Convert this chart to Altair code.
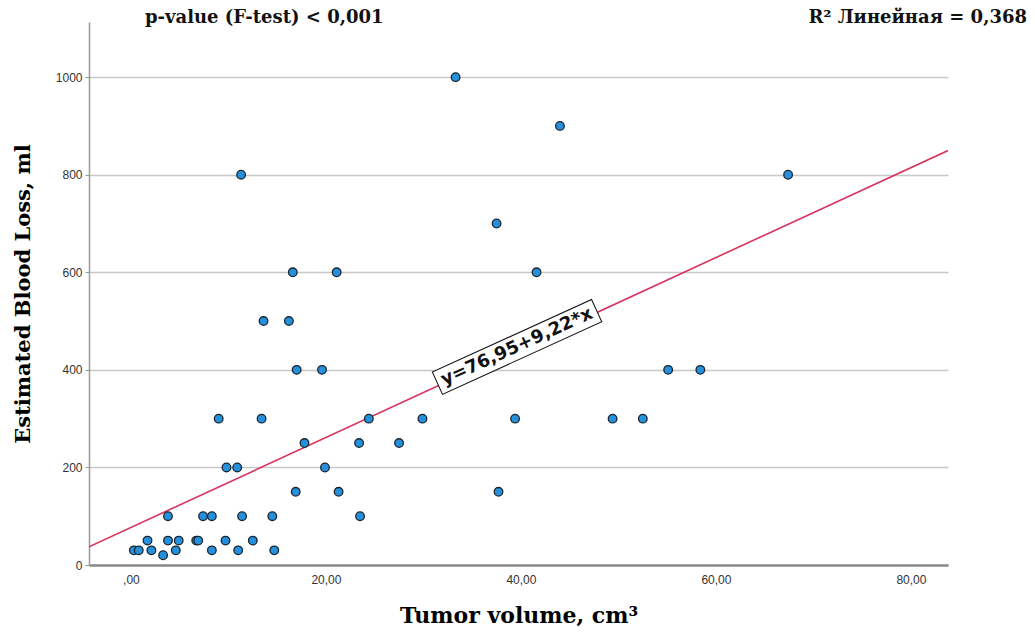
import altair as alt
import pandas as pd

# ---- data ----
tumor_volume = [0.3, 0.8, 2.1, 4.6, 8.3, 11.0, 14.7, 3.3,
                1.7, 3.8, 4.9, 6.7, 6.9, 9.7, 12.5,
                3.8, 7.4, 8.3, 11.4, 14.5, 23.5,
                16.9, 21.3, 37.7,
                9.8, 10.9, 19.9,
                17.8, 23.4, 27.5,
                9.0, 13.4, 24.4, 29.9, 39.4, 49.4, 52.5,
                17.0, 19.6, 55.1, 58.4,
                13.6, 16.2,
                16.6, 21.1, 41.6,
                37.5,
                11.3, 67.4,
                44.0,
                33.3]
blood_loss = [30, 30, 30, 30, 30, 30, 30, 20,
              50, 50, 50, 50, 50, 50, 50,
              100, 100, 100, 100, 100, 100,
              150, 150, 150,
              200, 200, 200,
              250, 250, 250,
              300, 300, 300, 300, 300, 300, 300,
              400, 400, 400, 400,
              500, 500,
              600, 600, 600,
              700,
              800, 800,
              900,
              1000]

intercept = 76.95
slope = 9.22
x_domain = [-4.3, 83.8]
y_domain = [0, 1113]
x_ticks = [0, 20, 40, 60, 80]
y_ticks = [0, 200, 400, 600, 800, 1000]
eq_label = ["y=76,95+9,22*x"]
eq_pos_x = [39.6]
eq_pos_y = [447]

pts = pd.DataFrame({"x": tumor_volume, "y": blood_loss})
fit = pd.DataFrame({"x": x_domain, "y": [intercept + slope * v for v in x_domain]})
eq = pd.DataFrame({"x": eq_pos_x, "y": eq_pos_y, "t": eq_label})

W, H = 859, 543
SERIF = "DejaVu Serif"

xs = alt.Scale(domain=x_domain, nice=False, zero=False)
ys = alt.Scale(domain=y_domain, nice=False, zero=False)

x_axis = alt.Axis(values=x_ticks, grid=False, ticks=False,
                  labelExpr="datum.value == 0 ? ',00' : replace(format(datum.value, '.2f'), '.', ',')",
                  labelFont="Liberation Sans", labelFontSize=12, labelColor="#333333",
                  labelPadding=9, domainColor="#8a8a8a", domainWidth=2.5,
                  title="Tumor volume, cm³", titleFont=SERIF, titleFontSize=22,
                  titleFontWeight="bold", titleColor="#000000", titlePadding=20)
y_axis = alt.Axis(values=y_ticks, grid=True, gridColor="#c8c8c8", gridWidth=1.5,
                  format="d",
                  tickColor="#9a9a9a", tickSize=4, domainColor="#9a9a9a", domainWidth=1.5,
                  labelFont="Liberation Sans", labelFontSize=12, labelColor="#333333",
                  labelPadding=3,
                  title="Estimated Blood Loss, ml", titleFont=SERIF, titleFontSize=21,
                  titleFontWeight="bold", titleColor="#000000", titlePadding=22)

points = alt.Chart(pts).mark_point(
    filled=True, shape="circle", size=74, fill="#2590dc", stroke="#1a2530",
    strokeWidth=1.3, opacity=1
).encode(
    x=alt.X("x:Q", scale=xs, axis=x_axis),
    y=alt.Y("y:Q", scale=ys, axis=y_axis),
)

line = alt.Chart(fit).mark_line(color="#d6335c", strokeWidth=1.6, clip=True).encode(
    x=alt.X("x:Q", scale=xs), y=alt.Y("y:Q", scale=ys)
)

box = alt.Chart(eq).mark_point(
    shape="M-1,-0.14L1,-0.14L1,0.14L-1,0.14Z", size=30625, filled=True,
    fill="white", stroke="#111111", strokeWidth=1, angle=335.5, opacity=1
).encode(x=alt.X("x:Q", scale=xs), y=alt.Y("y:Q", scale=ys))

eq_text = alt.Chart(eq).mark_text(
    font="DejaVu Sans", fontWeight="bold", fontSize=18, angle=335.5,
    align="center", baseline="middle", color="#111111"
).encode(x=alt.X("x:Q", scale=xs), y=alt.Y("y:Q", scale=ys), text="t:N")

ptext = alt.Chart(pd.DataFrame({"t": ["p-value (F-test) < 0,001"]})).mark_text(
    font=SERIF, fontWeight="bold", fontSize=18, align="left", baseline="middle",
    color="#111111"
).encode(x=alt.value(56), y=alt.value(-4), text="t:N")

rtext = alt.Chart(pd.DataFrame({"t": ["R² Линейная = 0,368"]})).mark_text(
    font=SERIF, fontWeight="bold", fontSize=18, align="right", baseline="middle",
    color="#111111"
).encode(x=alt.value(938), y=alt.value(-4), text="t:N")

chart = alt.layer(line, points, box, eq_text, ptext, rtext).properties(
    width=W, height=H,
    autosize=alt.AutoSizeParams(type="none"),
    padding={"left": 89, "top": 22, "right": 87, "bottom": 69},
    background="white",
).configure_view(stroke=None)

chart.save("out.html", embed_options={"renderer": "svg", "actions": False})
